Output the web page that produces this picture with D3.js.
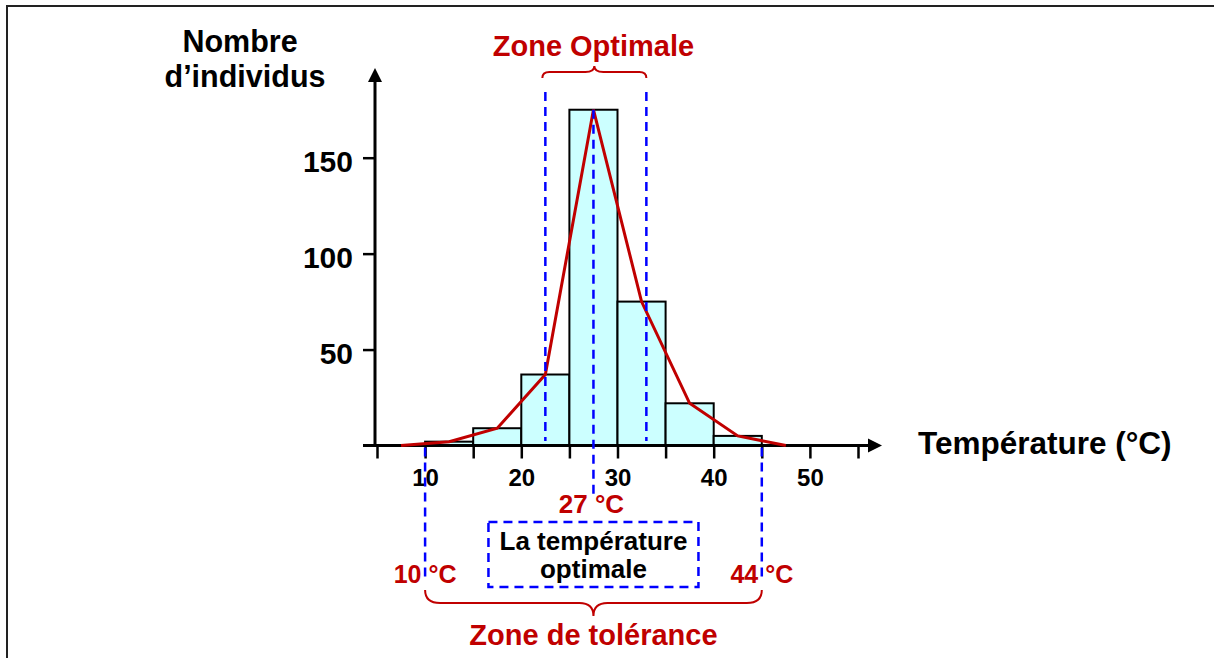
<!DOCTYPE html>
<html>
<head>
<meta charset="utf-8">
<script src="https://cdn.jsdelivr.net/npm/d3@7"></script>
<style>
  html, body { margin: 0; padding: 0; background: #fff; }
  svg text { font-family: "Liberation Sans", Arial, Helvetica, sans-serif; font-weight: bold; }
</style>
</head>
<body>
<svg id="chart" width="1214" height="658"></svg>
<script>
// ---- data ----
const binStarts = [10, 15, 20, 25, 30, 35, 40];
const binEnds   = [15, 20, 25, 30, 35, 40, 45];
const counts    = [2, 9, 37, 175, 75, 22, 5];
const polyTemps  = [7.5, 12.5, 17.5, 22.5, 27.5, 32.5, 37.5, 42.5, 47.5];
const polyCounts = [0, 2, 9, 37, 175, 75, 22, 5, 0];
const xTickValues = [5, 10, 15, 20, 25, 30, 35, 40, 45, 50, 55];
const xLabelValues = [10, 20, 30, 40, 50];
const yTickValues = [50, 100, 150];
const optimalRange = [22.5, 33];
const optimalTemp = 27.5;
const optimalLabel = "27 °C";
const toleranceRange = [10, 45];
const toleranceLabels = ["10 °C", "44 °C"];
const yAxisTitle = ["Nombre", "d’individus"];
const xAxisTitle = "Température (°C)";
const topBraceLabel = "Zone Optimale";
const bottomBraceLabel = "Zone de tolérance";
const boxLabel = ["La température", "optimale"];

// ---- setup ----
const RED = "#c00000", BLUE = "#0000ff";
const svg = d3.select("#chart");
const x = d3.scaleLinear().domain([5, 55]).range([377, 858]);
const y = d3.scaleLinear().domain([0, 150]).range([445.5, 157.7]);
const y0 = y(0);

// frame
svg.append("path").attr("d", "M7,658 L7,6 L1214,6")
  .attr("fill", "none").attr("stroke", "#222").attr("stroke-width", 2);

// bars
svg.append("g").selectAll("rect").data(counts).join("rect")
  .attr("x", (d, i) => x(binStarts[i]))
  .attr("width", (d, i) => x(binEnds[i]) - x(binStarts[i]))
  .attr("y", d => y(d))
  .attr("height", d => y0 - y(d))
  .attr("fill", "#ccffff").attr("stroke", "#000").attr("stroke-width", 2);

// x axis
const xAxis = svg.append("g").attr("transform", `translate(0,${y0})`)
  .call(d3.axisBottom(x).tickValues(xTickValues).tickSize(13)
    .tickFormat(d => xLabelValues.includes(d) ? String(d) : ""));
xAxis.select(".domain").remove();
xAxis.selectAll(".tick line").attr("stroke", "#000").attr("stroke-width", 2.5);
xAxis.selectAll(".tick text").attr("y", 40).attr("dy", null)
  .attr("font-size", 24).attr("fill", "#000");

// y axis
const yAxis = svg.append("g").attr("transform", `translate(${x(5) - 2},0)`)
  .call(d3.axisLeft(y).tickValues(yTickValues).tickSize(12).tickPadding(10));
yAxis.select(".domain").remove();
yAxis.selectAll(".tick line").attr("stroke", "#000").attr("stroke-width", 2.5);
yAxis.selectAll(".tick text").attr("dy", "0.45em").attr("font-size", 30).attr("fill", "#000");

const axX = x(5) - 2;
// axis lines with arrows
svg.append("line").attr("x1", axX - 12).attr("x2", 868).attr("y1", y0).attr("y2", y0)
  .attr("stroke", "#000").attr("stroke-width", 3);
svg.append("path").attr("d", `M${868},${y0 - 7} L${882},${y0} L${868},${y0 + 7} Z`).attr("fill", "#000");
svg.append("line").attr("x1", axX).attr("x2", axX).attr("y1", y0).attr("y2", 80)
  .attr("stroke", "#000").attr("stroke-width", 3);
svg.append("path").attr("d", `M${axX - 7},${82} L${axX},${68} L${axX + 7},${82} Z`).attr("fill", "#000");

// frequency polygon
const line = d3.line().x((d, i) => x(polyTemps[i])).y(d => y(d));
svg.append("path").datum(polyCounts).attr("d", line)
  .attr("fill", "none").attr("stroke", RED).attr("stroke-width", 3).attr("stroke-linejoin", "miter");

// blue dashed lines
const dash = "9,6";
function vdash(xv, ya, yb) {
  svg.append("line").attr("x1", x(xv)).attr("x2", x(xv)).attr("y1", ya).attr("y2", yb)
    .attr("stroke", BLUE).attr("stroke-width", 2.5).attr("stroke-dasharray", dash);
}
optimalRange.forEach(v => vdash(v, 92, 441));
vdash(optimalTemp, y(polyCounts[4]), 495);
toleranceRange.forEach(v => vdash(v, y0 + 2, 580));

// braces
function brace(x1, x2, yEnd, yH, yTip, r, rc) {
  const xc = (x1 + x2) / 2;
  const d = `M${x1},${yEnd} Q${x1},${yH} ${x1 + r},${yH} L${xc - rc},${yH} Q${xc},${yH} ${xc},${yTip}` +
            ` Q${xc},${yH} ${xc + rc},${yH} L${x2 - r},${yH} Q${x2},${yH} ${x2},${yEnd}`;
  svg.append("path").attr("d", d).attr("fill", "none").attr("stroke", RED).attr("stroke-width", 2);
}
brace(x(optimalRange[0]) - 3, x(optimalRange[1]), 78, 72, 66, 7, 9);
brace(x(toleranceRange[0]), x(toleranceRange[1]), 590, 603, 616, 15, 14);

// dashed box
const bc = x(optimalTemp);
svg.append("rect").attr("x", bc - 105).attr("y", 522).attr("width", 210).attr("height", 65)
  .attr("fill", "none").attr("stroke", BLUE).attr("stroke-width", 2.5).attr("stroke-dasharray", dash);

// texts
function txt(s, tx, ty, size, color, anchor) {
  svg.append("text").attr("x", tx).attr("y", ty).attr("font-size", size)
    .attr("fill", color).attr("text-anchor", anchor || "middle").text(s);
}
txt(yAxisTitle[0], 240, 52, 30.5, "#000");
txt(yAxisTitle[1], 245, 87, 30.5, "#000");
txt(xAxisTitle, 918, 454, 31.5, "#000", "start");
txt(topBraceLabel, bc, 56, 29, RED);
txt(optimalLabel, bc - 2, 513, 26, RED);
txt(boxLabel[0], bc, 550, 26, "#000");
txt(boxLabel[1], bc, 578, 26, "#000");
txt(toleranceLabels[0], x(toleranceRange[0]), 583, 25, RED);
txt(toleranceLabels[1], x(toleranceRange[1]), 583, 25, RED);
txt(bottomBraceLabel, bc, 645, 29, RED);
</script>
</body>
</html>
